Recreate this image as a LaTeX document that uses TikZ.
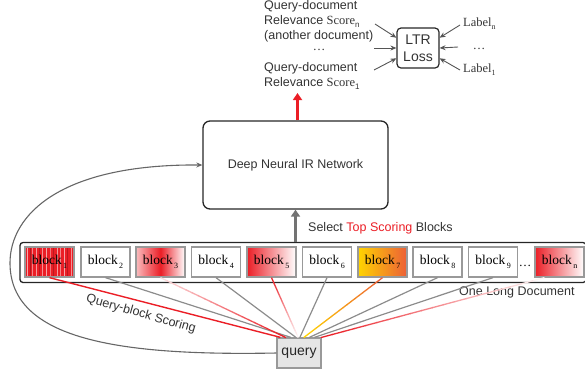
\documentclass[tikz,border=0pt]{standalone}
\usepackage{fontspec}
\setmainfont{Liberation Sans}
\newfontfamily\tms{Liberation Serif}
\usetikzlibrary{calc,arrows.meta}
\definecolor{txt}{HTML}{333333}
\definecolor{lg}{HTML}{8C8C8C}
\definecolor{ag}{HTML}{555555}
\definecolor{rd}{RGB}{235,30,38}
\definecolor{bx}{HTML}{999999}
\definecolor{yl}{RGB}{255,212,0}
\definecolor{org}{RGB}{236,95,55}
\newcommand\sbs[1]{\raisebox{-0.6ex}{\fontsize{8}{8}\selectfont #1}}
\newcommand\gradline[4]{%
  \colorlet{gA}{#3}\colorlet{gB}{#4}%
  \foreach \i in {0,...,19}{%
    \pgfmathsetmacro\ta{\i/20}%
    \pgfmathsetmacro\tb{(\i+1)/20+0.004}%
    \pgfmathtruncatemacro\pc{100-\i*100/19}%
    \draw[line width=1.3pt, color={gA!\pc!gB}] ($(#1)!\ta!(#2)$) -- ($(#1)!\tb!(#2)$);
  }}
\tikzset{
  blk/.style={draw=bx, line width=1.3pt, minimum width=49pt, minimum height=30pt, inner sep=0pt, font=\tms\fontsize{13.5}{14}\selectfont, text=black},
  txtn/.style={inner sep=0pt, text=txt, anchor=base west},
  garr/.style={draw=ag, line width=0.9pt, -{Stealth[length=6pt,width=5pt]}},
  gline/.style={draw=lg, line width=1.2pt},
}
\begin{document}
\begin{tikzpicture}[x=1pt,y=-1pt,font=\fontsize{12.5}{15}\selectfont]
\useasboundingbox (0,0) rectangle (585,376);
\clip (0,0) rectangle (585,376);

% top texts
\node[txtn] (t1) at (264,9) {Query-document};
\node[txtn] (t2) at (264,24) {Relevance {\tms Score}\sbs{n}};
\node[txtn] (t3) at (264,39) {(another document)};
\node[inner sep=0pt, text=txt, anchor=base] (t4) at (319,50) {\tms\dots};
\node[txtn] (t5) at (264,71) {Query-document};
\node[txtn] (t6) at (264,86) {Relevance {\tms Score}\sbs{1}};

% LTR loss
\node[draw=black!85, line width=1.2pt, rounded corners=4pt, minimum width=42pt, minimum height=40pt, inner sep=0pt, align=center, font=\fontsize{14}{17}\selectfont, text=txt] (ltr) at (418,48) {LTR\\Loss};
\node[txtn, font=\tms\fontsize{12.5}{15}\selectfont] (ln) at (463,26) {Label\sbs{n}};
\node[inner sep=0pt, text=txt, anchor=base, font=\tms\fontsize{12.5}{15}\selectfont] (ld) at (479,49) {\dots};
\node[txtn, font=\tms\fontsize{12.5}{15}\selectfont] (l1) at (463,72) {Label\sbs{1}};
\coordinate (la) at (375,24);
\coordinate (lb) at (374,48);
\coordinate (lc) at (374,70);
\coordinate (ra) at (460,25);
\coordinate (rb) at (458,47);
\coordinate (rc) at (460,70);
\draw[garr] (la) -- ($(ltr.north west)!0.25!(ltr.south west)$);
\draw[garr] (lb) -- (ltr.west);
\draw[garr] (lc) -- ($(ltr.north west)!0.75!(ltr.south west)$);
\draw[garr] (ra) -- ($(ltr.north east)!0.25!(ltr.south east)$);
\draw[garr] (rb) -- (ltr.east);
\draw[garr] (rc) -- ($(ltr.north east)!0.75!(ltr.south east)$);

% network
\node[draw=black!85, line width=1.3pt, rounded corners=7pt, minimum width=185pt, minimum height=88pt, text=txt] (net) at (295.5,165) {Deep Neural IR Network};
\coordinate (rtip) at (297.5,93);
\draw[rd, line width=3pt, -{Triangle[width=9pt,length=7pt]}] (net.north -| rtip) -- (rtip);

% document box
\node[draw=black!85, line width=1.3pt, rounded corners=3pt, minimum width=566pt, minimum height=40pt] (doc) at (303,262.5) {};
\draw[color=black!55, line width=3pt, -{Triangle[width=9pt,length=7pt]}] (net.south |- doc.north) -- (net.south);
\node[txtn] (sel) at (308,231) {Select \textcolor{rd}{Top Scoring} Blocks};

% block 1 stripes
\fill[rd] (25,247) rectangle (74,277);
\foreach \x/\c in {27.5/rd!40, 30/rd!75!black, 32.5/rd!55, 36/rd!45, 39/rd!80!black, 42.5/rd!50, 46/rd!40, 50.5/rd!60, 53/rd!80!black, 57/rd!45, 60.5/rd!55, 64/rd!40, 67.5/rd!80!black, 71/rd!50}
  {\fill[\c] (\x-0.45,247) rectangle (\x+0.45,277);}
\node[blk] (b1) at (49.5,262) {block\kern1.5pt\sbs{1}};
\node[blk] (b2) at (105.5,262) {block\kern1.5pt\sbs{2}};
\node[blk, left color=rd!30, right color=white, middle color=rd] (b3) at (160.5,262) {block\kern1.5pt\sbs{3}};
\node[blk] (b4) at (216,262) {block\kern1.5pt\sbs{4}};
\node[blk, left color=rd, right color=white] (b5) at (271.5,262) {block\kern1.5pt\sbs{5}};
\node[blk] (b6) at (327,262) {block\kern1.5pt\sbs{6}};
\node[blk, left color=yl, right color=org] (b7) at (382.5,262) {block\kern1.5pt\sbs{7}};
\node[blk] (b8) at (437.5,262) {block\kern1.5pt\sbs{8}};
\node[blk] (b9) at (493,262) {block\kern1.5pt\sbs{9}};
\node[inner sep=0pt, anchor=base, font=\tms\fontsize{12.5}{15}\selectfont] (dots) at (525,266) {\dots};
\node[blk, left color=rd, right color=white] (bn) at (559.5,262) {block\kern1.5pt\sbs{n}};

\node[txtn] (old) at (459,295) {One Long Document};

% query
\node[draw=bx, fill=black!10, line width=1.3pt, minimum width=44pt, minimum height=30pt, inner sep=0pt, font=\fontsize{14}{16}\selectfont, text=black!85] (q) at (299,353) {query};

\coordinate (e1) at ($(q.north west)!0.09!(q.north east)$);
\coordinate (e2) at ($(q.north west)!0.32!(q.north east)$);
\coordinate (e3) at ($(q.north west)!0.20!(q.north east)$);
\coordinate (e4) at ($(q.north west)!0.43!(q.north east)$);
\coordinate (e5) at ($(q.north west)!0.48!(q.north east)$);
\coordinate (e6) at ($(q.north west)!0.52!(q.north east)$);
\coordinate (e7) at ($(q.north west)!0.61!(q.north east)$);
\coordinate (e8) at ($(q.north west)!0.73!(q.north east)$);
\coordinate (e9) at ($(q.north west)!0.84!(q.north east)$);
\coordinate (en) at ($(q.north west)!1.0!(q.north east)$);
\coordinate (sn) at ($(bn.south west)!0.2!(bn.south east)$);

\draw[gline] (b2.south) -- (e2);
\draw[gline] (b4.south) -- (e4);
\draw[gline] (b6.south) -- (e6);
\draw[gline] (b8.south) -- (e8);
\draw[gline] (b9.south) -- (e9);
\gradline{b3.south}{e3}{rd!15}{rd}
\gradline{b5.south}{e5}{rd}{rd!5}
\gradline{b7.south}{e7}{org}{yl}
\gradline{sn}{en}{rd!5}{rd}
\draw[rd, line width=1.4pt] (b1.south) -- (e1);

\node[inner sep=0pt, text=txt, rotate=-16] (qbs) at (141,314) {Query-block Scoring};

% feedback curve
\draw[color=black!60, line width=1.1pt, -{Stealth[length=6pt,width=5pt]}] (q.west) .. controls (120,356) and (10,340) .. (10,263) .. controls (10,215) and (60,164) .. (net.west);
\end{tikzpicture}
\end{document}
